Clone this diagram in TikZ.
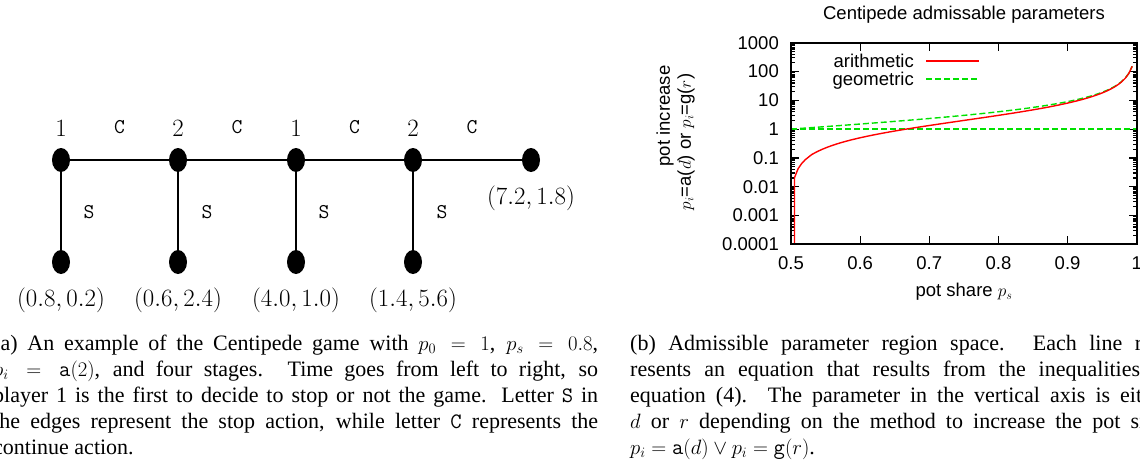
\documentclass[tikz,border=0pt]{standalone}
\usepackage{fontspec}
\setmainfont{Liberation Serif}
\newfontfamily\plotfont{Liberation Sans}
\usetikzlibrary{shapes.geometric}
\definecolor{gcol}{RGB}{0,225,0}
\begin{document}
\begin{tikzpicture}[x=1pt,y=-1pt,
  dot/.style={ellipse,fill=black,draw=none,minimum width=18pt,minimum height=24pt,inner sep=0pt},
  edgeline/.style={line width=1.7pt},
  gtxt/.style={font=\fontsize{25}{30}\selectfont,inner sep=0pt},
  ttxt/.style={font=\fontsize{21}{25}\selectfont\ttfamily,inner sep=0pt},
  ptxt/.style={font=\plotfont\fontsize{18.5}{22}\selectfont,inner sep=0pt},
  captxt/.style={font=\fontsize{22}{26}\selectfont,inner sep=0pt,anchor=base west},
  arith/.style={red,line width=1.4pt},
  geom/.style={gcol,line width=1.4pt,dash pattern=on 6pt off 3pt},
  axisline/.style={line width=1.8pt},
  tickline/.style={line width=1.2pt}
]
\useasboundingbox (0,0) rectangle (1140,467);
\clip (0,0) rectangle (1140,467);

% ---------------- centipede game tree ----------------
\node[dot] (t1) at (61,160) {};
\node[dot] (t2) at (178,160) {};
\node[dot] (t3) at (296,160) {};
\node[dot] (t4) at (413,160) {};
\node[dot] (t5) at (531,160) {};
\node[dot] (b1) at (61,262) {};
\node[dot] (b2) at (178,262) {};
\node[dot] (b3) at (296,262) {};
\node[dot] (b4) at (413,262) {};
\draw[edgeline] (t1) -- (t2);
\draw[edgeline] (t2) -- (t3);
\draw[edgeline] (t3) -- (t4);
\draw[edgeline] (t4) -- (t5);
\draw[edgeline] (t1) -- (b1);
\draw[edgeline] (t2) -- (b2);
\draw[edgeline] (t3) -- (b3);
\draw[edgeline] (t4) -- (b4);

\node[gtxt] (pl1) at (61,128) {$1$};
\node[gtxt] (pl2) at (178,128) {$2$};
\node[gtxt] (pl3) at (296,128) {$1$};
\node[gtxt] (pl4) at (413,128) {$2$};
\node[ttxt] (c1) at (119.5,127) {C};
\node[ttxt] (c2) at (237,127) {C};
\node[ttxt] (c3) at (354.5,127) {C};
\node[ttxt] (c4) at (472,127) {C};
\node[ttxt] (s1) at (89,212) {S};
\node[ttxt] (s2) at (207,212) {S};
\node[ttxt] (s3) at (324,212) {S};
\node[ttxt] (s4) at (442,212) {S};
\node[gtxt] (o1) at (61,300) {$(0.8, 0.2)$};
\node[gtxt] (o2) at (178,300) {$(0.6, 2.4)$};
\node[gtxt] (o3) at (296,300) {$(4.0, 1.0)$};
\node[gtxt] (o4) at (413,300) {$(1.4, 5.6)$};
\node[gtxt] (o5) at (531,198) {$(7.2, 1.8)$};

% ---------------- plot ----------------
\node[ptxt] (title) at (964,15) {Centipede admissable parameters};
% ticks
\foreach \i in {1,...,4} {
  \draw[tickline] ({791+\i*69.14},244.3) -- ++(0,-8);
  \draw[tickline] ({791+\i*69.14},42.7) -- ++(0,8);
}
\foreach \d in {0,...,7} {
  \draw[tickline] (791,{244.3-\d*28.8}) -- ++(8,0);
  \draw[tickline] (1136.7,{244.3-\d*28.8}) -- ++(-8,0);
}
\foreach \d in {0,...,6} {
  \foreach \m in {2,...,9} {
    \draw[tickline] (791,{244.3-(\d+log10(\m))*28.8}) -- ++(4,0);
    \draw[tickline] (1136.7,{244.3-(\d+log10(\m))*28.8}) -- ++(-4,0);
  }
}
\foreach \lab [count=\d from 0] in {0.0001,0.001,0.01,0.1,1,10,100,1000}
  \node[ptxt,anchor=east] (yt\d) at (779,{244.3-\d*28.8}) {\lab};
\foreach \lab [count=\i from 0] in {0.5,0.6,0.7,0.8,0.9,1}
  \node[ptxt] (xt\i) at ({791+\i*69.14},263) {\lab};
\node[ptxt] (xlab) at (964,292) {pot share $p_s$};
\node[ptxt,rotate=90] (ylab1) at (665,116) {pot increase};
\node[ptxt,rotate=90] (ylab2) at (686,142) {$p_i$=a($d$) or $p_i$=g($r$)};

% curves
\draw[geom] (791,129.1) -- (1136.7,129.1);
\draw[geom] plot[domain=0.5:0.99495,samples=99] ({791+(\x-0.5)*691.4},{244.3-(log10(\x/(1-\x))+4)*28.8});
\draw[arith] (794.5,244.3) -- plot[domain=0.50505:0.99495,samples=98] ({791+(\x-0.5)*691.4},{244.3-(log10((2*\x-1)/(1-\x))+4)*28.8});

% legend
\node[ptxt,anchor=base east] (leg1) at (914,67.5) {arithmetic};
\draw[arith] (926,61) -- (979,61);
\node[ptxt,anchor=base east] (leg2) at (914,85.5) {geometric};
\draw[geom] (926,79) -- (979,79);

\draw[axisline] (791,42.7) rectangle (1136.7,244.3);

% ---------------- captions ----------------
\node[captxt] (ca1) at (-7,350) {\hbox to 605pt{(a) An example of the Centipede game with $p_0 = 1$, $p_s = 0.8$,}};
\node[captxt] (ca2) at (-7,376) {\hbox to 605pt{$p_i = \mathtt{a}(2)$, and four stages.  Time goes from left to right, so}};
\node[captxt] (ca3) at (-7,402) {\hbox to 605pt{player 1 is the first to decide to stop or not the game. Letter \texttt{S} in}};
\node[captxt] (ca4) at (-7,428) {\hbox to 605pt{the edges represent the stop action, while letter \texttt{C} represents the}};
\node[captxt] (ca5) at (-7,454) {continue action.};

\node[captxt] (cb1) at (630,350) {\hbox to 540pt{(b) Admissible parameter region space.  Each line rep-}};
\node[captxt] (cb2) at (630,376) {\hbox to 540pt{resents an equation that results from the inequalities in}};
\node[captxt] (cb3) at (630,402) {\hbox to 540pt{equation (4).  The parameter in the vertical axis is either}};
\node[captxt] (cb4) at (630,428) {\hbox to 540pt{$d$ or $r$ depending on the method to increase the pot size,}};
\node[captxt] (cb5) at (630,454) {$p_i = \mathtt{a}(d) \vee p_i = \mathtt{g}(r)$.};
\end{tikzpicture}
\end{document}
